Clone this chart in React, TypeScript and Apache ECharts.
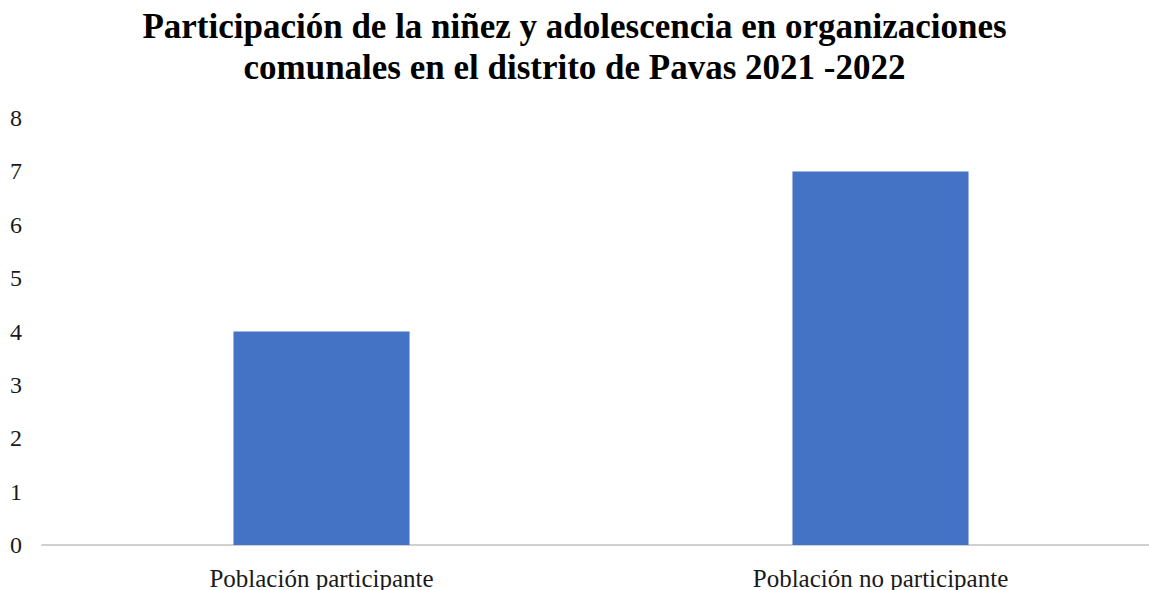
import React, { useEffect, useRef } from "react";
import * as echarts from "echarts";

const titleLines = [
  "Participación de la niñez y adolescencia en organizaciones",
  "comunales en el distrito de Pavas 2021 -2022",
];
const categories = ["Población participante", "Población no participante"];
const values = [4, 7];
const yMin = 0;
const yMax = 8;
const yInterval = 1;

export default function App() {
  const ref = useRef<HTMLDivElement>(null);
  useEffect(() => {
    if (!ref.current) return;
    const chart = echarts.init(ref.current, null, { renderer: "svg" });
    chart.setOption({
      animation: false,
      backgroundColor: "#ffffff",
      title: {
        text: titleLines.join("\n"),
        left: "center",
        top: 1,
        textStyle: {
          fontFamily: "Liberation Serif",
          fontWeight: "bold",
          fontSize: 35,
          lineHeight: 41,
          color: "#000000",
        },
      },
      grid: {
        left: 42,
        width: 1118,
        top: 118,
        bottom: 45,
        containLabel: false,
        outerBoundsMode: "none",
      },
      xAxis: {
        type: "category",
        data: categories,
        axisLine: { show: true, lineStyle: { color: "#d0d0d0", width: 2 } },
        axisTick: { show: false },
        axisLabel: {
          fontFamily: "Liberation Serif",
          fontSize: 25,
          lineHeight: 20,
          color: "#1a1a1a",
          margin: 23,
        },
      },
      yAxis: {
        type: "value",
        min: yMin,
        max: yMax,
        interval: yInterval,
        splitLine: { show: false },
        axisLine: { show: false },
        axisTick: { show: false },
        axisLabel: {
          fontFamily: "Liberation Serif",
          fontSize: 24,
          color: "#1a1a1a",
          margin: 20,
        },
      },
      series: [
        {
          type: "bar",
          data: values,
          barWidth: "31.5%",
          itemStyle: { color: "#4472C4" },
        },
      ],
    });
    return () => chart.dispose();
  }, []);
  return (
    <div
      ref={ref}
      style={{ position: "absolute", left: 0, top: 0, width: 1149, height: 590 }}
    />
  );
}
